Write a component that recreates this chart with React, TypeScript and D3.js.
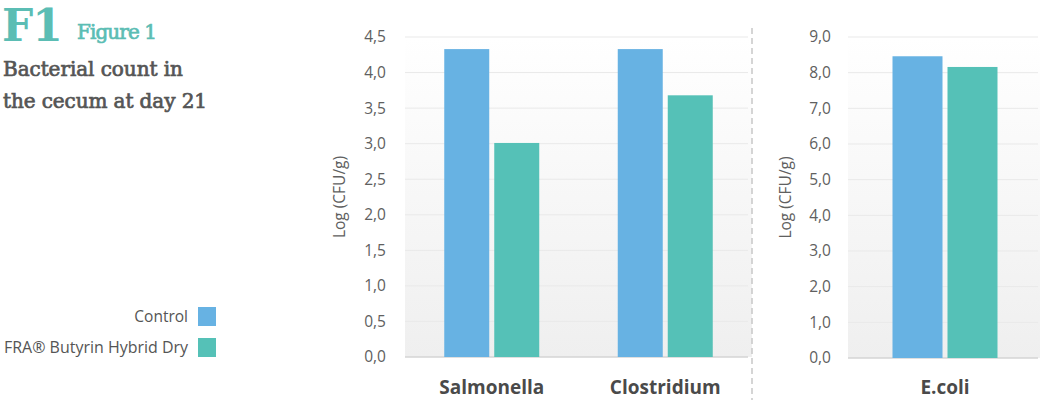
import React from "react";
import * as d3 from "d3";

const seriesNames = ["Control", "FRA® Butyrin Hybrid Dry"];
const seriesColors = ["#67b2e3", "#55c1b7"];

const leftCategories = ["Salmonella", "Clostridium"];
const leftControl = [4.33, 4.33];
const leftFra = [3.01, 3.68];
const leftTicks = [0, 0.5, 1, 1.5, 2, 2.5, 3, 3.5, 4, 4.5];

const rightCategories = ["E.coli"];
const rightControl = [8.46];
const rightFra = [8.16];
const rightTicks = [0, 1, 2, 3, 4, 5, 6, 7, 8, 9];

const yTitle = "Log (CFU/g)";
const FONT = "'Open Sans', 'Noto Sans', sans-serif";
const SLAB = "'DejaVu Serif', serif";

type PanelProps = {
  id: string;
  x0: number;
  x1: number;
  yTop: number;
  yBottom: number;
  max: number;
  categories: string[];
  control: number[];
  fra: number[];
  ticks: number[];
  tickX: number;
  titleX: number;
  barW: number;
};

function Panel(p: PanelProps) {
  const y = d3.scaleLinear().domain([0, p.max]).range([p.yBottom, p.yTop]);
  const xb = d3.scaleBand().domain(p.categories).range([p.x0, p.x1]);
  const fmt = (v: number) => d3.format(".1f")(v).replace(".", ",");
  const gap = 5;
  return (
    <g>
      <defs>
        <linearGradient id={p.id + "bg"} x1="0" y1="0" x2="0" y2="1">
          <stop offset="0" stopColor="#ffffff" />
          <stop offset="1" stopColor="#efefef" />
        </linearGradient>
      </defs>
      <rect x={p.x0} y={p.yTop} width={p.x1 - p.x0} height={p.yBottom - p.yTop} fill={`url(#${p.id}bg)`} />
      {p.ticks.map((t) => (
        <g key={t}>
          {t > 0 && (
            <line x1={p.x0} x2={p.x1 - 4} y1={y(t)} y2={y(t)} stroke="#e9e9e9" strokeWidth={1} />
          )}
          <text x={p.tickX} y={y(t)} dy="0.35em" textAnchor="end" fontSize={15.5} fill="#606060" fontFamily={FONT}>
            {fmt(t)}
          </text>
        </g>
      ))}
      <line x1={p.x0} x2={p.x1 - 4} y1={p.yBottom} y2={p.yBottom} stroke="#d4d4d4" strokeWidth={1.5} />
      {p.categories.map((c, i) => {
        const cx = (xb(c) as number) + xb.bandwidth() / 2;
        return (
          <g key={c}>
            <rect x={cx - gap / 2 - p.barW} y={y(p.control[i])} width={p.barW} height={p.yBottom - y(p.control[i])} fill={seriesColors[0]} />
            <rect x={cx + gap / 2} y={y(p.fra[i])} width={p.barW} height={p.yBottom - y(p.fra[i])} fill={seriesColors[1]} />
            <text x={cx} y={394} textAnchor="middle" fontSize={19} fontWeight={700} fill="#4a4a4a" fontFamily={FONT}>
              {c}
            </text>
          </g>
        );
      })}
      <text
        transform={`translate(${p.titleX},${(p.yTop + p.yBottom) / 2}) rotate(-90)`}
        textAnchor="middle"
        dy="0.35em"
        fontSize={15.5}
        fill="#606060"
        fontFamily={FONT}
      >
        {yTitle}
      </text>
    </g>
  );
}

export default function App() {
  return (
    <svg width={1040} height={400} style={{ position: "absolute", left: 0, top: 0, background: "#fff" }}>
      <text x={2} y={41} fontSize={44} fontWeight={700} fill="#5bbdb4" fontFamily={SLAB} letterSpacing={-1}>
        F1
      </text>
      <text x={77} y={39} fontSize={20} fill="#5bbdb4" stroke="#5bbdb4" strokeWidth={0.7} fontFamily={SLAB} textLength={80}>
        Figure 1
      </text>
      <text x={3} y={76} fontSize={20} fill="#555555" stroke="#555555" strokeWidth={0.7} fontFamily={SLAB} textLength={180}>
        Bacterial count in
      </text>
      <text x={3} y={108} fontSize={20} fill="#555555" stroke="#555555" strokeWidth={0.7} fontFamily={SLAB} textLength={204}>
        the cecum at day 21
      </text>

      {seriesNames.map((s, i) => (
        <g key={s}>
          <text
            x={188}
            y={317 + i * 31}
            dy="0.35em"
            textAnchor="end"
            fontSize={15.5}
            fill="#555"
            fontFamily={FONT}
            textLength={i === 1 ? 184 : undefined}
            lengthAdjust="spacingAndGlyphs"
          >
            {s}
          </text>
          <rect x={198} y={307 + i * 31} width={18} height={19} fill={seriesColors[i]} />
        </g>
      ))}

      <Panel
        id="l"
        x0={405}
        x1={752}
        yTop={37}
        yBottom={357}
        max={4.5}
        categories={leftCategories}
        control={leftControl}
        fra={leftFra}
        ticks={leftTicks}
        tickX={386}
        titleX={340}
        barW={45}
      />
      <line x1={752} x2={752} y1={28} y2={400} stroke="#c8c8c8" strokeWidth={1.5} strokeDasharray="6,4" />
      <Panel
        id="r"
        x0={848}
        x1={1042}
        yTop={37}
        yBottom={358}
        max={9}
        categories={rightCategories}
        control={rightControl}
        fra={rightFra}
        ticks={rightTicks}
        tickX={831}
        titleX={786}
        barW={50}
      />
    </svg>
  );
}
